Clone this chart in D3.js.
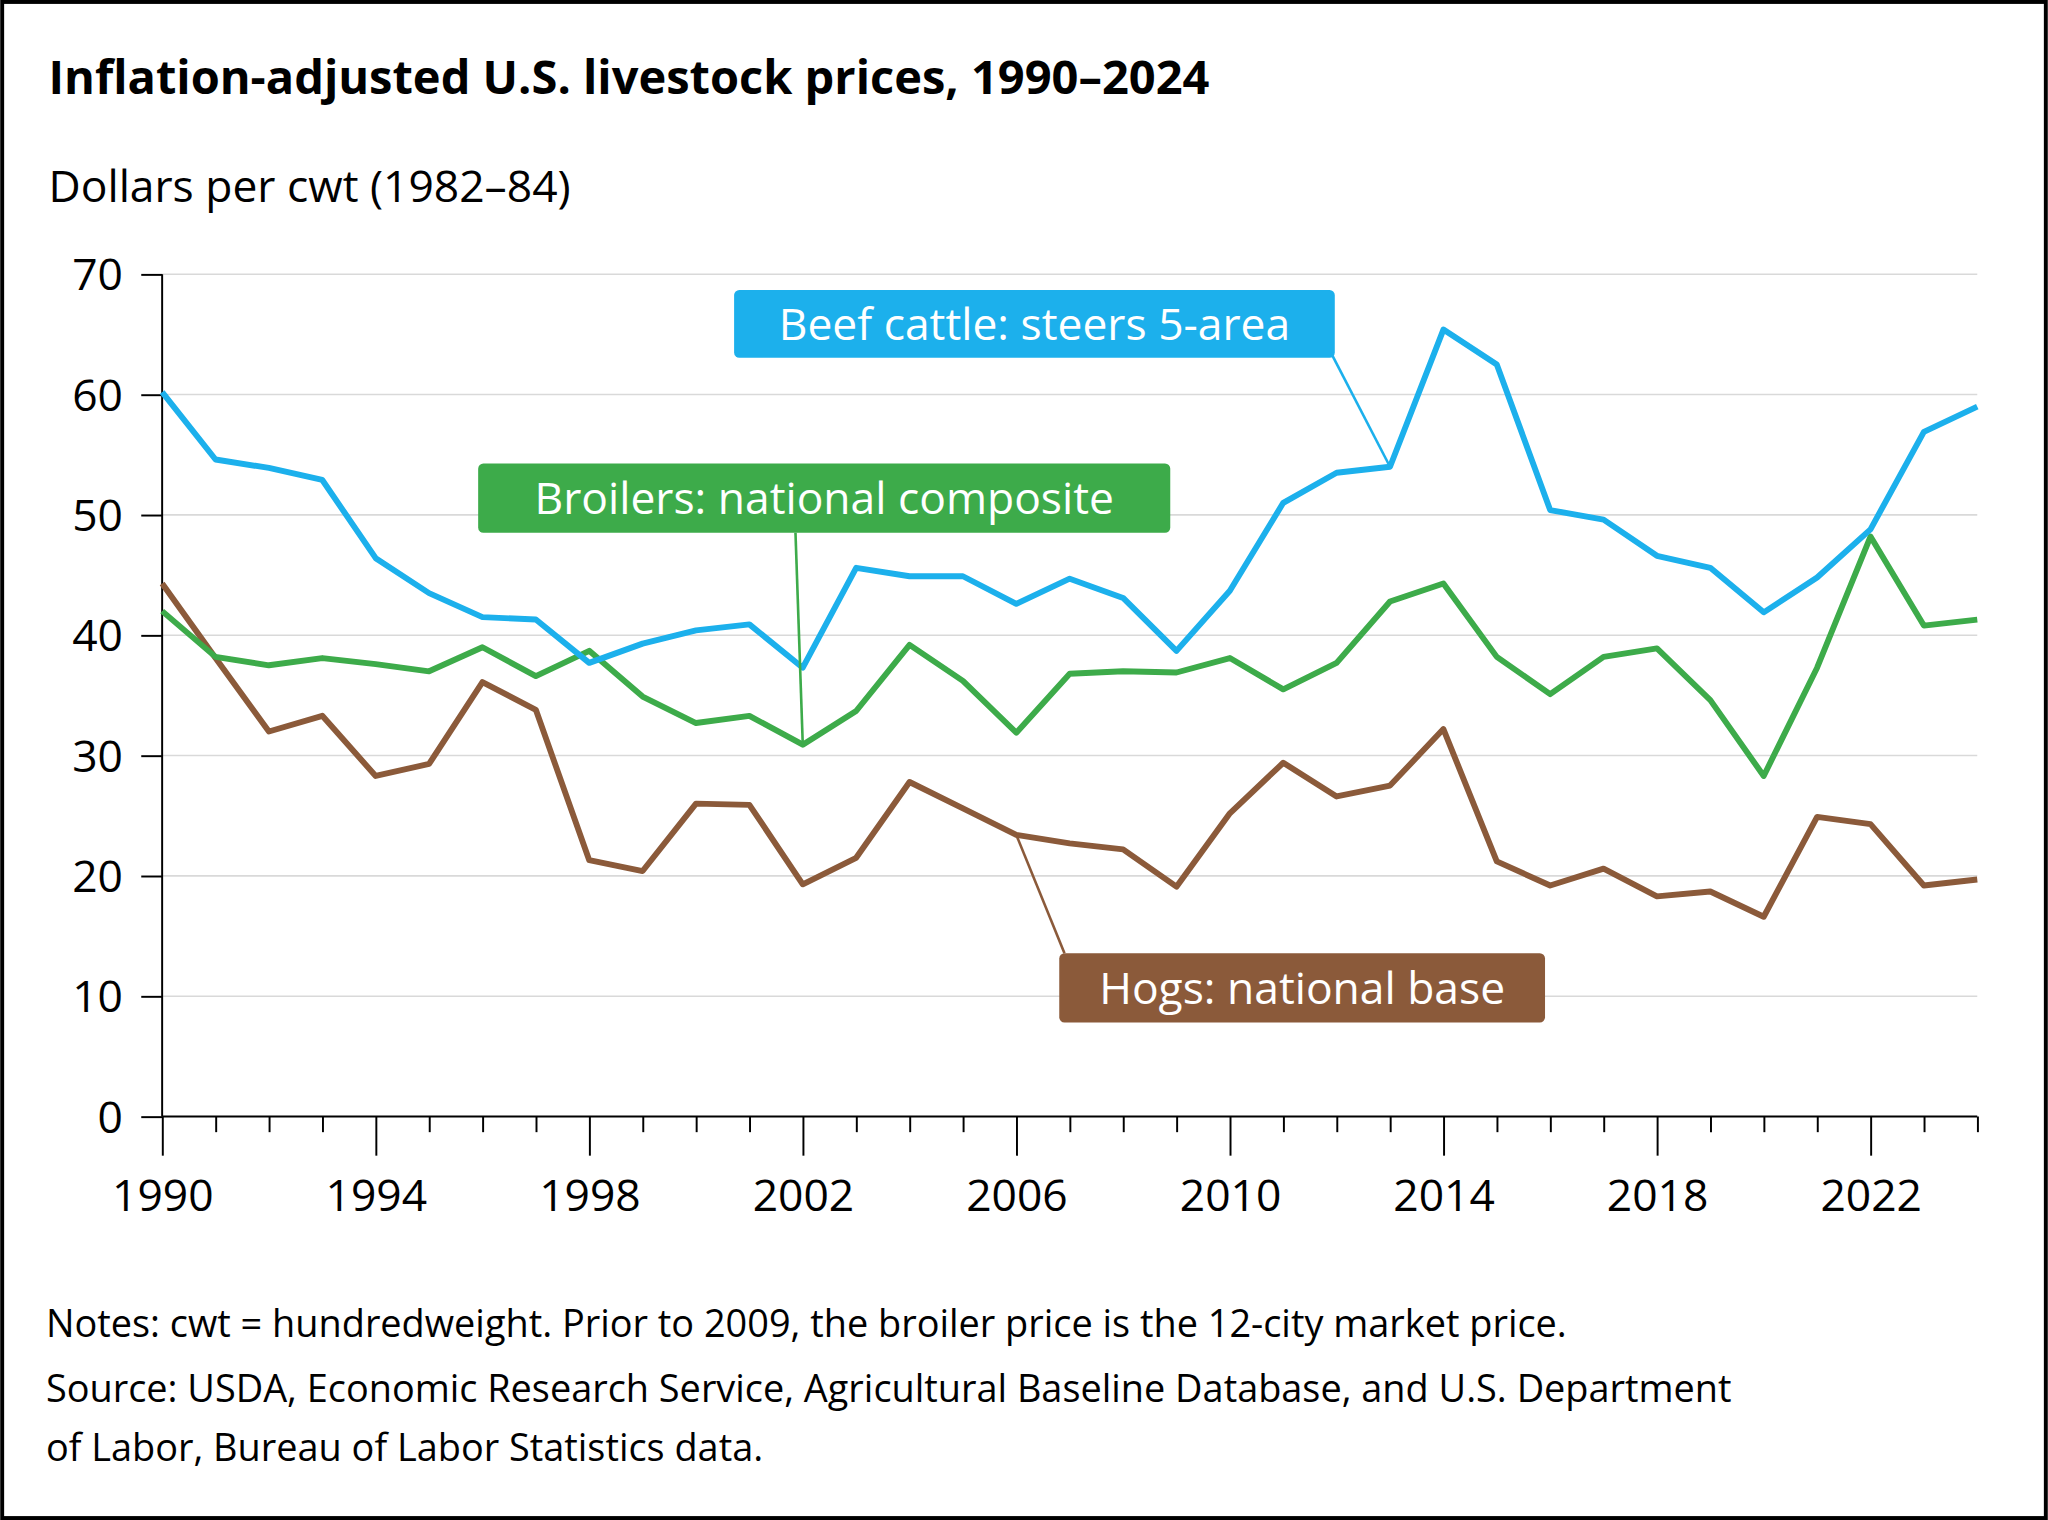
<!DOCTYPE html>
<html><head><meta charset="utf-8">
<script src="https://cdn.jsdelivr.net/npm/d3@7"></script>
<style>body{margin:0;background:#fff}text{font-family:"Open Sans",sans-serif}</style>
</head><body>
<script>
const years = d3.range(1990, 2025);
const beef = [60.2,54.6,53.9,52.9,46.4,43.5,41.5,41.3,37.7,39.3,40.4,40.9,37.3,45.6,44.9,44.9,42.6,44.7,43.1,38.7,43.7,51.0,53.5,54.0,65.4,62.5,50.4,49.6,46.6,45.6,41.9,44.8,48.8,56.9,59.0];
const broilers = [42.0,38.2,37.5,38.1,37.6,37.0,39.0,36.6,38.7,34.9,32.7,33.3,30.9,33.7,39.2,36.2,31.9,36.8,37.0,36.9,38.1,35.5,37.7,42.8,44.3,38.2,35.1,38.2,38.9,34.6,28.3,37.3,48.2,40.8,41.3];
const hogs = [44.3,38.1,32.0,33.3,28.3,29.3,36.1,33.8,21.3,20.4,26.0,25.9,19.3,21.5,27.8,25.6,23.4,22.7,22.2,19.1,25.2,29.4,26.6,27.5,32.2,21.2,19.2,20.6,18.3,18.7,16.6,24.9,24.3,19.2,19.7];
const yTicks = [0,10,20,30,40,50,60,70];
const xLabels = [1990,1994,1998,2002,2006,2010,2014,2018,2022];

const W = 1568, H = 1164;
const svg = d3.select("body").append("svg")
  .attr("width", 2048).attr("height", 1520)
  .attr("viewBox", `0 0 ${W} ${H}`);
svg.append("rect").attr("x",1.5).attr("y",1.5).attr("width",W-3).attr("height",H-3)
  .attr("fill","#fff").attr("stroke","#000").attr("stroke-width",3);

const x = d3.scaleLinear().domain([1990, 2024]).range([124, 1514]);
const y = d3.scaleLinear().domain([0, 70]).range([855, 210]);

svg.append("text").attr("x",37).attr("y",72).attr("font-size",36).attr("font-weight","bold")
  .text("Inflation-adjusted U.S. livestock prices, 1990–2024");
svg.append("text").attr("x",37).attr("y",155).attr("font-size",34)
  .text("Dollars per cwt (1982–84)");

// grid
svg.append("g").selectAll("line").data(yTicks.filter(d => d > 0)).join("line")
  .attr("x1",124).attr("x2",1514).attr("y1",y).attr("y2",y)
  .attr("stroke","#d9d9d9").attr("stroke-width",1.2);

const yAxis = svg.append("g").attr("transform","translate(124,0)")
  .call(d3.axisLeft(y).tickValues(yTicks).tickSize(16).tickPadding(14));
yAxis.select(".domain").remove();
yAxis.append("line").attr("y1",y(70)).attr("y2",y(0)).attr("stroke","#000").attr("stroke-width",1.5);

const xAxis = svg.append("g").attr("transform","translate(0,855)")
  .call(d3.axisBottom(x).tickValues(years).tickSize(12).tickFormat(d => xLabels.includes(d) ? d : ""));
xAxis.selectAll(".tick line").attr("y2", d => xLabels.includes(d) ? 30 : 12);
xAxis.selectAll(".tick text").attr("dy", 0).attr("y", 72);
xAxis.select(".domain").attr("d", `M124,0H1514`);

[yAxis, xAxis].forEach(a => {
  a.selectAll("text").attr("font-size",34).attr("font-family","'Open Sans',sans-serif").attr("fill","#000");
  a.selectAll("line, path").attr("stroke","#000").attr("stroke-width",1.5);
});
yAxis.selectAll(".tick text").attr("dy","0.35em");

const series = [
  {vals: hogs, color: "#8b5a3a"},
  {vals: broilers, color: "#3dab4a"},
  {vals: beef, color: "#1cb0ec"}
];
const line = d3.line().x((d,i) => x(years[i])).y(d => y(d));
series.forEach(s => svg.append("path").datum(s.vals).attr("d", line)
  .attr("fill","none").attr("stroke",s.color).attr("stroke-width",4.5).attr("stroke-linejoin","round"));

// labels
const labels = [
  {text:"Beef cattle: steers 5-area", color:"#1cb0ec", x0:562, x1:1022, y0:222, y1:274, lx:1020, ly:272, yr:2013, v:beef},
  {text:"Broilers: national composite", color:"#3dab4a", x0:366, x1:896, y0:355, y1:408, lx:609, ly:408, yr:2002, v:broilers},
  {text:"Hogs: national base", color:"#8b5a3a", x0:811, x1:1183, y0:730, y1:783, lx:815, ly:730, yr:2006, v:hogs}
];
labels.forEach(l => {
  svg.append("line").attr("x1",l.lx).attr("y1",l.ly)
    .attr("x2",x(l.yr)).attr("y2",y(l.v[l.yr-1990]))
    .attr("stroke",l.color).attr("stroke-width",2);
  svg.append("rect").attr("x",l.x0).attr("y",l.y0).attr("width",l.x1-l.x0).attr("height",l.y1-l.y0)
    .attr("rx",4).attr("fill",l.color);
  svg.append("text").attr("x",(l.x0+l.x1)/2).attr("y",(l.y0+l.y1)/2).attr("dy","0.36em")
    .attr("text-anchor","middle").attr("font-size",34).attr("fill","#fff").text(l.text);
});

const notes = ["Notes: cwt = hundredweight. Prior to 2009, the broiler price is the 12-city market price.",
  "Source: USDA, Economic Research Service, Agricultural Baseline Database, and U.S. Department",
  "of Labor, Bureau of Labor Statistics data."];
[1024, 1074, 1119].forEach((yy,i) => svg.append("text").attr("x",35).attr("y",yy)
  .attr("font-size",29).text(notes[i]));
</script>
</body></html>
